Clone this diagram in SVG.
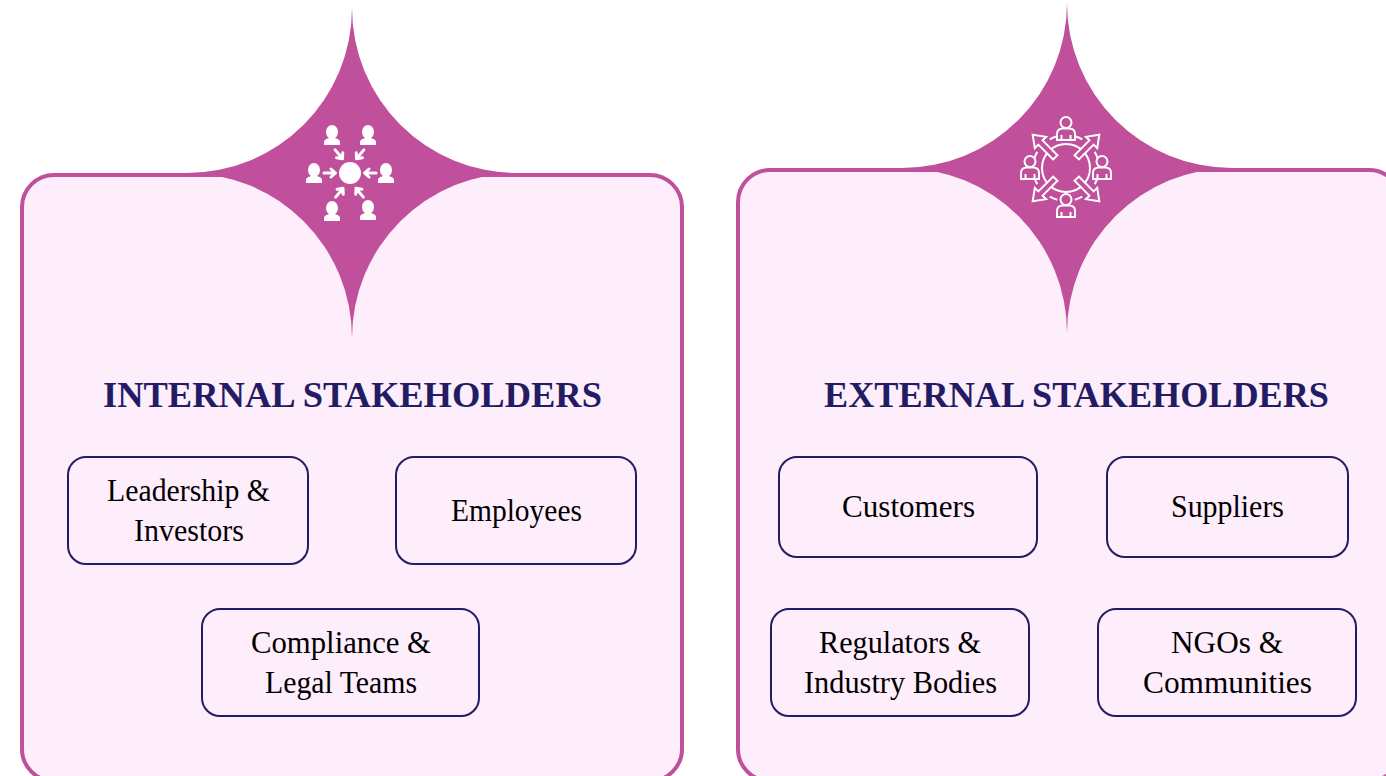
<svg xmlns="http://www.w3.org/2000/svg" width="1386" height="776" viewBox="0 0 1386 776">
<style>
.panel{fill:#feedfa;stroke:#c0509b;stroke-width:4}
.star{fill:#c0509b}
.box{fill:none;stroke:#211c63;stroke-width:2}
.t{font-family:"Liberation Serif","Times New Roman",serif;font-size:31px;fill:#000;text-anchor:middle}
.h{font-family:"Liberation Serif","Times New Roman",serif;font-size:36.500px;font-weight:bold;fill:#211c63;text-anchor:middle}
.w{fill:#fff}
.wl{fill:none;stroke:#fff;stroke-width:2}
.wf{fill:#c0509b;stroke:#fff;stroke-width:2;stroke-linejoin:miter}
.wa{fill:none;stroke:#fff;stroke-width:3;stroke-linecap:round;stroke-linejoin:round}
</style>
<defs>
<path id="star" class="star" d="M0-165A165 165 0 0 0 165 0A165 165 0 0 0 0 165A165 165 0 0 0-165 0A165 165 0 0 0 0-165Z"/>
<g id="p1"><ellipse cx="0" cy="-13" rx="6" ry="7" class="w"/><path class="w" d="M-8 0V-3Q-8-5.500-4-6.500L-2-7.500H2L4-6.500Q8-5.500 8-3V0Z"/></g>
<path id="ar" class="wa" d="M-6 0H5M1-4 5.500 0 1 4"/>
<g id="p2"><circle cx="0" cy="-18.500" r="5.500" class="wf"/><path class="wf" d="M-9-1V-7Q-9-12-4-12.500H4Q9-12 9-7V-1ZM-4.500-1V-6M4.500-1V-6"/></g>
<path id="a2" class="wf" d="M-16-3H5V-8L16 0 5 8V3H-16Z"/>
</defs>
<g id="internal">
<rect class="panel" x="22" y="175" width="660" height="606" rx="32"/>
<use href="#star" x="352" y="173"/>
<g id="internal-icon">
<circle cx="350" cy="173" r="11" class="w"/>
<use href="#p1" x="332" y="145"/><use href="#p1" x="368" y="145"/>
<use href="#p1" x="314" y="183"/><use href="#p1" x="386" y="183"/>
<use href="#p1" x="332" y="221"/><use href="#p1" x="368" y="220"/>
<use href="#ar" transform="translate(330 173)"/>
<use href="#ar" transform="translate(370 173) rotate(180)"/>
<use href="#ar" transform="translate(339 154.500) rotate(50)"/>
<use href="#ar" transform="translate(360 154.500) rotate(130)"/>
<use href="#ar" transform="translate(339.500 192.500) rotate(-50)"/>
<use href="#ar" transform="translate(359.500 192.500) rotate(-130)"/>
</g>
<text class="h" x="352.500" y="407" textLength="499" lengthAdjust="spacingAndGlyphs">INTERNAL STAKEHOLDERS</text>
</g>
<g id="external">
<rect class="panel" x="738" y="170" width="663" height="611" rx="32"/>
<use href="#star" x="1067" y="168"/>
<g id="external-icon">
<circle cx="1066" cy="168" r="24" class="wl"/>
<circle cx="1066" cy="168" r="33" class="wl" pathLength="360" stroke-dasharray="14 31" stroke-dashoffset="-15.500"/>
<use href="#p2" x="1066" y="141"/><use href="#p2" x="1066" y="218"/>
<use href="#p2" x="1030" y="180"/><use href="#p2" x="1102" y="180"/>
<use href="#a2" transform="translate(1044 146) rotate(-135)"/>
<use href="#a2" transform="translate(1088 146) rotate(-45)"/>
<use href="#a2" transform="translate(1044 190) rotate(135)"/>
<use href="#a2" transform="translate(1088 190) rotate(45)"/>
</g>
<text class="h" x="1076.500" y="407" textLength="505" lengthAdjust="spacingAndGlyphs">EXTERNAL STAKEHOLDERS</text>
</g>
<g id="leadership"><rect class="box" x="68" y="457" width="240" height="107" rx="18"/><text class="t" x="188.500" y="501" textLength="163" lengthAdjust="spacingAndGlyphs">Leadership &amp;</text><text class="t" x="189" y="541" textLength="110" lengthAdjust="spacingAndGlyphs">Investors</text></g>
<g id="employees"><rect class="box" x="396" y="457" width="240" height="107" rx="18"/><text class="t" x="516.500" y="521" textLength="131" lengthAdjust="spacingAndGlyphs">Employees</text></g>
<g id="compliance"><rect class="box" x="202" y="609" width="277" height="107" rx="18"/><text class="t" x="341" y="653" textLength="180" lengthAdjust="spacingAndGlyphs">Compliance &amp;</text><text class="t" x="341" y="693" textLength="152" lengthAdjust="spacingAndGlyphs">Legal Teams</text></g>
<g id="customers"><rect class="box" x="779" y="457" width="258" height="100" rx="18"/><text class="t" x="908.500" y="517" textLength="133" lengthAdjust="spacingAndGlyphs">Customers</text></g>
<g id="suppliers"><rect class="box" x="1107" y="457" width="241" height="100" rx="18"/><text class="t" x="1227.500" y="517" textLength="113" lengthAdjust="spacingAndGlyphs">Suppliers</text></g>
<g id="regulators"><rect class="box" x="771" y="609" width="258" height="107" rx="18"/><text class="t" x="900" y="653" textLength="162" lengthAdjust="spacingAndGlyphs">Regulators &amp;</text><text class="t" x="900.500" y="693" textLength="193" lengthAdjust="spacingAndGlyphs">Industry Bodies</text></g>
<g id="ngos"><rect class="box" x="1098" y="609" width="258" height="107" rx="18"/><text class="t" x="1227" y="653" textLength="112" lengthAdjust="spacingAndGlyphs">NGOs &amp;</text><text class="t" x="1227.500" y="693" textLength="169" lengthAdjust="spacingAndGlyphs">Communities</text></g>
<g id="connectors"></g>
</svg>
